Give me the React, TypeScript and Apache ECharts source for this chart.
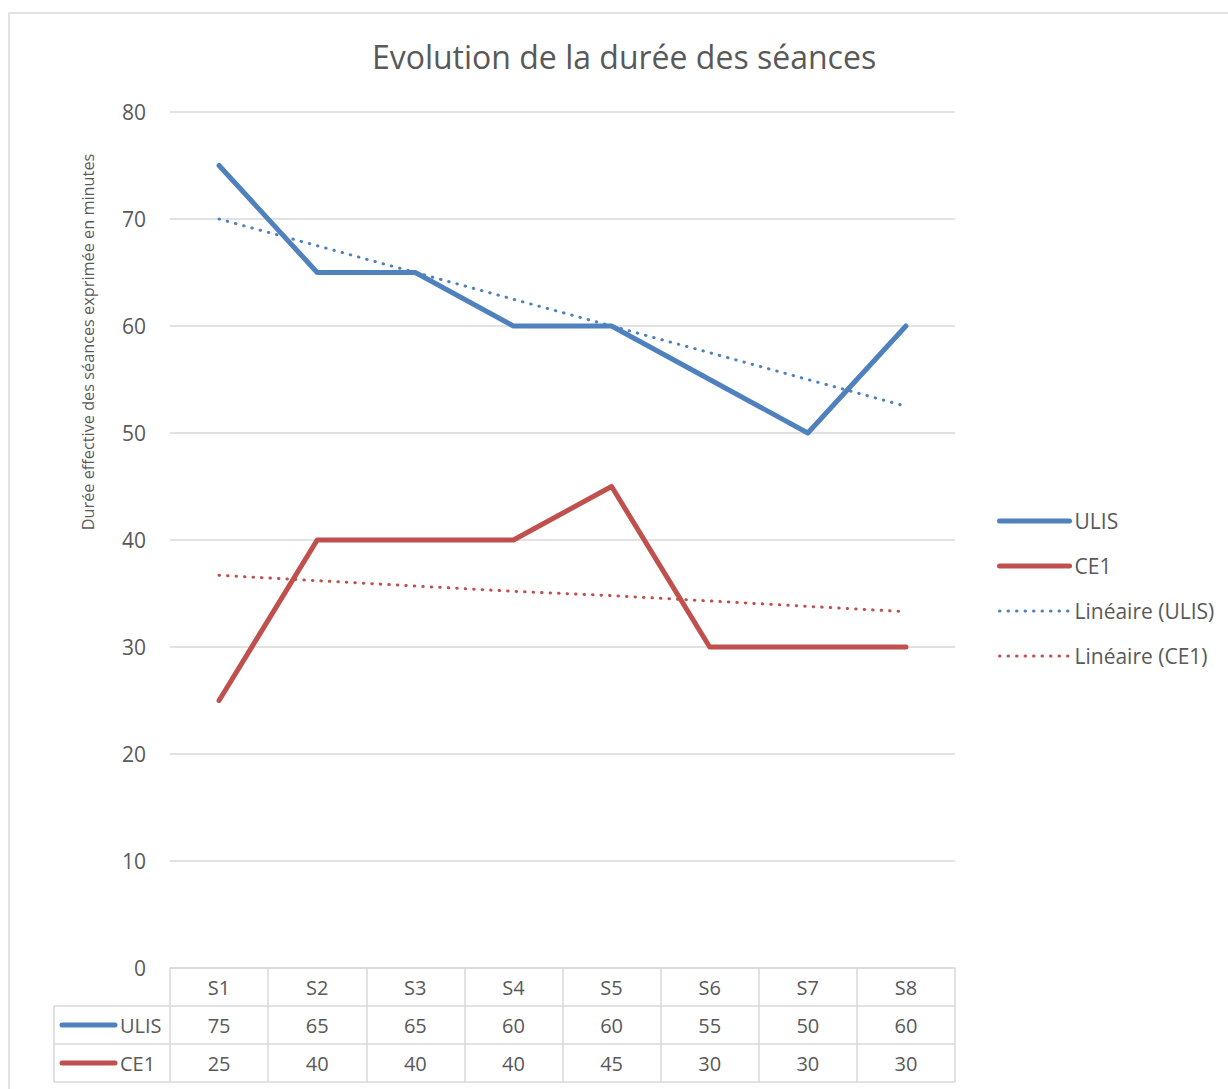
import React, { useEffect, useRef } from "react";
import * as echarts from "echarts";

// ---- data ----
const categories = ["S1", "S2", "S3", "S4", "S5", "S6", "S7", "S8"];
const ulisValues = [75, 65, 65, 60, 60, 55, 50, 60];
const ce1Values = [25, 40, 40, 40, 45, 30, 30, 30];
const ulisTrend = [70, 67.5, 65, 62.5, 60, 57.5, 55, 52.5];
const ce1Trend = [36.7, 36.2, 35.7, 35.2, 34.8, 34.3, 33.8, 33.3];
const seriesNames = ["ULIS", "CE1", "Linéaire (ULIS)", "Linéaire (CE1)"];
const titleText = "Evolution de la durée des séances";
const yAxisName = "Durée effective des séances exprimée en minutes";
const yMin = 0;
const yMax = 80;
const yInterval = 10;

// ---- styles / layout ----
const FONT = "'Open Sans', 'Noto Sans', sans-serif";
const TEXT = "#595959";
const GRIDC = "#d9d9d9";
const BLUE = "#4f81bd";
const RED = "#c0504d";
const GL = 170;
const GR = 955;
const GT = 112;
const GB = 968;
const ROW = 38;
const TL = 54;

export default function App() {
  const ref = useRef<HTMLDivElement>(null);

  useEffect(() => {
    if (!ref.current) return;
    const chart = echarts.init(ref.current, null, { renderer: "svg" });
    const tableLine = { stroke: GRIDC, lineWidth: 1.5 };
    const hidden = { opacity: 0 };
    const option: any = {
      animation: false,
      backgroundColor: "#ffffff",
      textStyle: { fontFamily: FONT },
      title: {
        text: titleText,
        left: 624,
        top: 40,
        textAlign: "center",
        padding: 0,
        textStyle: { fontFamily: FONT, fontSize: 32, fontWeight: "normal", color: TEXT },
      },
      legend: {
        orient: "vertical",
        left: 997,
        top: 509,
        padding: 0,
        itemWidth: 70,
        itemHeight: 14,
        itemGap: 21,
        textStyle: { fontFamily: FONT, fontSize: 21, color: TEXT, lineHeight: 24 },
        data: [
          { name: seriesNames[0], lineStyle: { width: 5 }, itemStyle: hidden },
          { name: seriesNames[1], lineStyle: { width: 5 }, itemStyle: hidden },
          { name: seriesNames[2], lineStyle: { width: 3 }, itemStyle: hidden },
          { name: seriesNames[3], lineStyle: { width: 3 }, itemStyle: hidden },
        ],
      },
      grid: { left: GL, top: GT, width: GR - GL, height: GB - GT, containLabel: false },
      xAxis: [
        {
          type: "category",
          data: categories,
          position: "bottom",
          boundaryGap: true,
          axisLine: { show: true, lineStyle: { color: GRIDC, width: 1.5 } },
          axisTick: { show: true, interval: 0, length: ROW * 3, lineStyle: { color: GRIDC, width: 1.5 } },
          axisLabel: { fontFamily: FONT, fontSize: 20, color: TEXT, margin: 9, interval: 0 },
          splitLine: { show: false },
        },
        {
          type: "category",
          data: ulisValues.map(String),
          position: "bottom",
          offset: ROW,
          boundaryGap: true,
          axisLine: { show: false },
          axisTick: { show: false },
          axisLabel: { fontFamily: FONT, fontSize: 20, color: TEXT, margin: 9, interval: 0 },
        },
        {
          type: "category",
          data: ce1Values.map(String),
          position: "bottom",
          offset: ROW * 2,
          boundaryGap: true,
          axisLine: { show: false },
          axisTick: { show: false },
          axisLabel: { fontFamily: FONT, fontSize: 20, color: TEXT, margin: 9, interval: 0 },
        },
      ],
      yAxis: {
        type: "value",
        min: yMin,
        max: yMax,
        interval: yInterval,
        axisLine: { show: false },
        axisTick: { show: false },
        axisLabel: { fontFamily: FONT, fontSize: 21, color: TEXT, margin: 24 },
        splitLine: { show: true, lineStyle: { color: GRIDC, width: 1.5 } },
      },
      series: [
        {
          name: seriesNames[0],
          type: "line",
          data: ulisValues,
          symbol: "none",
          color: BLUE,
          lineStyle: { width: 5, color: BLUE, cap: "round", join: "round" },
          z: 3,
        },
        {
          name: seriesNames[1],
          type: "line",
          data: ce1Values,
          symbol: "none",
          color: RED,
          lineStyle: { width: 5, color: RED, cap: "round", join: "round" },
          z: 3,
        },
        {
          name: seriesNames[2],
          type: "line",
          data: ulisTrend,
          symbol: "none",
          color: BLUE,
          lineStyle: { width: 3, color: BLUE, type: [0.5, 8], cap: "round" },
          z: 4,
        },
        {
          name: seriesNames[3],
          type: "line",
          data: ce1Trend,
          symbol: "none",
          color: RED,
          lineStyle: { width: 3, color: RED, type: [0.5, 8], cap: "round" },
          z: 4,
        },
      ],
      graphic: [
        {
          type: "rect",
          shape: { x: 9, y: 13, width: 1400, height: 1300 },
          style: { fill: "none", stroke: GRIDC, lineWidth: 1.5 },
          silent: true,
          z: -10,
        },
        {
          type: "text",
          x: 88,
          y: 342,
          rotation: Math.PI / 2,
          style: {
            text: yAxisName,
            fontFamily: FONT,
            fontSize: 16.3,
            fill: TEXT,
            align: "center",
            verticalAlign: "middle",
          },
        },
        // table borders (left part + row separators)
        { type: "line", shape: { x1: TL, y1: GB + ROW, x2: GR, y2: GB + ROW }, style: tableLine },
        { type: "line", shape: { x1: TL, y1: GB + ROW * 2, x2: GR, y2: GB + ROW * 2 }, style: tableLine },
        { type: "line", shape: { x1: TL, y1: GB + ROW * 3, x2: GR, y2: GB + ROW * 3 }, style: tableLine },
        { type: "line", shape: { x1: TL, y1: GB + ROW, x2: TL, y2: GB + ROW * 3 }, style: tableLine },
        // row keys
        {
          type: "line",
          shape: { x1: 62, y1: GB + ROW * 1.5, x2: 115, y2: GB + ROW * 1.5 },
          style: { stroke: BLUE, lineWidth: 5, lineCap: "round" },
        },
        {
          type: "text",
          x: 120,
          y: GB + ROW * 1.5,
          style: { text: seriesNames[0], fontFamily: FONT, fontSize: 20, fill: TEXT, align: "left", verticalAlign: "middle" },
        },
        {
          type: "line",
          shape: { x1: 62, y1: GB + ROW * 2.5, x2: 115, y2: GB + ROW * 2.5 },
          style: { stroke: RED, lineWidth: 5, lineCap: "round" },
        },
        {
          type: "text",
          x: 120,
          y: GB + ROW * 2.5,
          style: { text: seriesNames[1], fontFamily: FONT, fontSize: 20, fill: TEXT, align: "left", verticalAlign: "middle" },
        },
      ],
    };
    chart.setOption(option);
    return () => chart.dispose();
  }, []);

  return (
    <div
      ref={ref}
      style={{ position: "fixed", left: 0, top: 0, width: 1228, height: 1089 }}
    />
  );
}
